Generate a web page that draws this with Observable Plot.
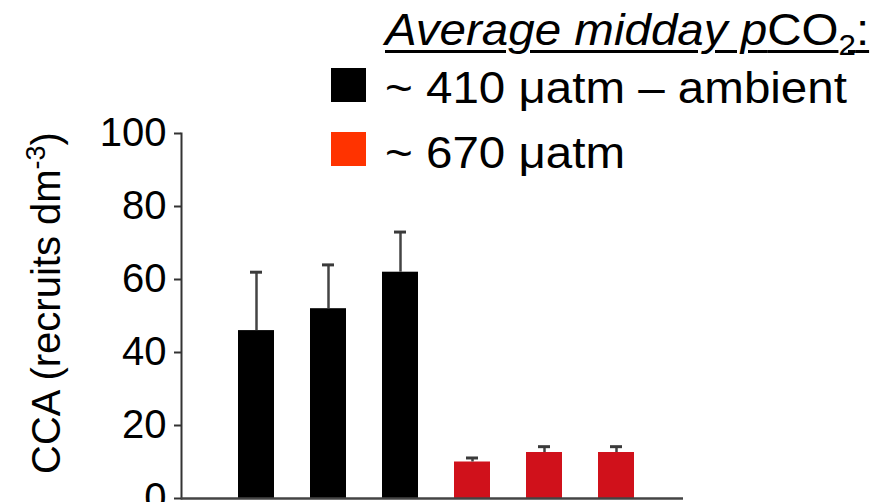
<!DOCTYPE html>
<html><head><meta charset="utf-8">
<script src="https://cdn.jsdelivr.net/npm/d3@7"></script>
<script src="https://cdn.jsdelivr.net/npm/@observablehq/plot@0.6"></script>
<style>
body{margin:0;background:#fff;}
#wrap{position:relative;width:892px;height:502px;font-family:"Liberation Sans",Arial,Helvetica,sans-serif;}
.lg{position:absolute;left:385px;font-size:44px;line-height:44px;white-space:nowrap;transform:scaleX(1.08);transform-origin:0 0;color:#000;}
.sw{position:absolute;left:331px;width:35px;height:34px;}
</style></head><body>
<div id="wrap">
  <div class="lg" id="ttl" style="top:8px;"><span style="text-decoration:underline;text-decoration-thickness:3px;text-underline-offset:5px;"><i>Average midday p</i>CO<span style="font-size:29px;position:relative;top:10px;">2</span>:</span></div>
  <div class="sw" style="top:68px;background:#000;"></div>
  <div class="lg" id="l1" style="top:66px;"></div>
  <div class="sw" style="top:132px;background:#ff3300;"></div>
  <div class="lg" id="l2" style="top:131px;"></div>
</div>
<script>
// ---- data ----
const groups = ["1", "2", "3", "4", "5", "6"];
const treatment = ["~ 410 μatm – ambient", "~ 410 μatm – ambient", "~ 410 μatm – ambient", "~ 670 μatm", "~ 670 μatm", "~ 670 μatm"];
const means = [46, 52, 62, 10, 12.6, 12.6];
const errors = [16, 12, 11, 1.1, 1.6, 1.6];
const yTicks = [0, 20, 40, 60, 80, 100];
const legendLabels = ["~ 410 μatm – ambient", "~ 670 μatm"];
const barColors = ["#000000", "#d0111b"];

const rows = groups.map((g, i) => ({group: g, treatment: treatment[i], mean: means[i], upper: means[i] + errors[i]}));

document.getElementById("l1").textContent = legendLabels[0];
document.getElementById("l2").textContent = legendLabels[1];

const font = '"Liberation Sans", Arial, Helvetica, sans-serif';

const chart = Plot.plot({
  width: 892,
  height: 502,
  marginLeft: 181,
  marginRight: 209,
  marginTop: 133,
  marginBottom: 4,
  style: {fontFamily: font, background: "transparent", overflow: "visible"},
  x: {type: "band", domain: groups, range: [236, 635], paddingInner: 0.5, paddingOuter: 0, axis: null},
  y: {domain: [0, 100], axis: null},
  color: {domain: legendLabels, range: barColors},
  marks: [
    Plot.barY(rows, {x: "group", y: "mean", fill: "treatment"}),
    Plot.ruleX(rows, {x: "group", y1: "mean", y2: "upper", stroke: "#444", strokeWidth: 2.5}),
    Plot.tickY(rows, {x: "group", y: "upper", stroke: "#3a3a3a", strokeWidth: 3, insetLeft: 12, insetRight: 12}),
    Plot.axisY({ticks: yTicks, tickSize: 7, tickPadding: 8, fontSize: 40, label: null, stroke: "#333", strokeWidth: 2, color: "#000", tickFormat: d => String(d)}),
    Plot.frame({anchor: "left", stroke: "#333", strokeWidth: 2}),
    Plot.ruleY([0], {stroke: "#444", strokeWidth: 2.5})
  ]
});

// y-axis label with superscript
const lab = d3.select(chart).append("text")
  .attr("transform", "translate(60,303) rotate(-90)")
  .attr("text-anchor", "middle")
  .attr("font-size", 40)
  .attr("font-family", font)
  .attr("fill", "#000");
lab.append("tspan").text("CCA (recruits dm");
lab.append("tspan").attr("font-size", 27).attr("dy", -15).text("-3");
lab.append("tspan").attr("font-size", 40).attr("dy", 15).text(")");

chart.style.position = "absolute";
chart.style.left = "0px";
chart.style.top = "0px";
document.getElementById("wrap").prepend(chart);
</script>
</body></html>
